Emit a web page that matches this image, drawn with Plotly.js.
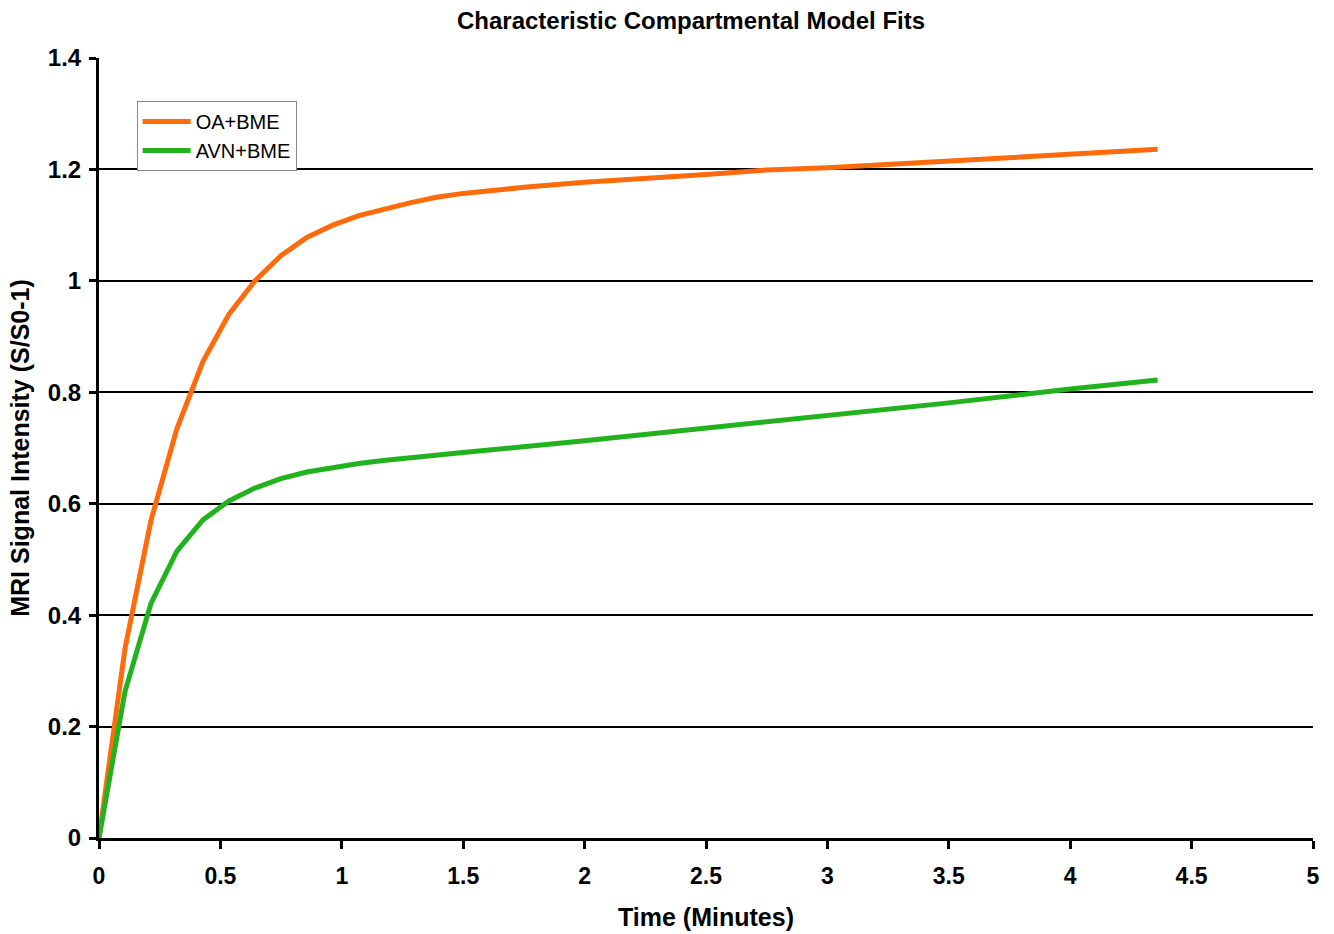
<!DOCTYPE html>
<html>
<head>
<meta charset="utf-8">
<script src="https://cdn.plot.ly/plotly-3.0.1.min.js"></script>
<style>html,body{margin:0;padding:0;background:#fff}#chart{width:1334px;height:934px}</style>
</head>
<body>
<div id="chart"></div>
<script>
// Data
const timeOA  = [0, 0.107, 0.214, 0.321, 0.428, 0.535, 0.642, 0.749, 0.856, 0.963, 1.07, 1.18, 1.28, 1.39, 1.5, 1.75, 2.0, 2.5, 2.75, 3.0, 3.5, 4.0, 4.36];
const valuesOA = [0, 0.34, 0.57, 0.735, 0.855, 0.94, 1.0, 1.045, 1.078, 1.10, 1.117, 1.13, 1.14, 1.15, 1.157, 1.168, 1.177, 1.191, 1.199, 1.203, 1.215, 1.226, 1.236];
const timeAVN  = [0, 0.107, 0.214, 0.321, 0.428, 0.535, 0.642, 0.749, 0.856, 0.963, 1.07, 1.18, 1.28, 1.5, 2.0, 2.5, 3.0, 3.5, 4.0, 4.36];
const valuesAVN = [0, 0.263, 0.421, 0.515, 0.571, 0.605, 0.628, 0.645, 0.657, 0.665, 0.672, 0.678, 0.683, 0.692, 0.713, 0.735, 0.757, 0.781, 0.806, 0.822];
const seriesNames = ["OA+BME", "AVN+BME"];
const xTicks = [0, 0.5, 1, 1.5, 2, 2.5, 3, 3.5, 4, 4.5, 5];
const yTicks = [0, 0.2, 0.4, 0.6, 0.8, 1, 1.2, 1.4];

const font = "Liberation Sans, Arial, Helvetica, sans-serif";

const traces = [
  {x: timeOA, y: valuesOA, name: seriesNames[0], mode: "lines", line: {color: "#FF6A0A", width: 5}},
  {x: timeAVN, y: valuesAVN, name: seriesNames[1], mode: "lines", line: {color: "#22B21E", width: 5}}
];

const layout = {
  width: 1334, height: 934,
  margin: {l: 99, r: 21, t: 58, b: 96},
  paper_bgcolor: "#fff", plot_bgcolor: "#fff",
  font: {family: font, color: "#000"},
  title: {text: "Characteristic Compartmental Model Fits", font: {family: font, size: 24, weight: "bold", color: "#000"}, x: 0.518, xanchor: "center", y: 0.978, yanchor: "middle"},
  xaxis: {
    range: [0, 5], tickvals: xTicks, ticktext: xTicks.map(String),
    showgrid: false, zeroline: false,
    showline: true, linecolor: "#000", linewidth: 3,
    ticks: "outside", ticklen: 8, tickwidth: 3, tickcolor: "#000",
    tickfont: {family: font, size: 23, weight: "bold", color: "#000"},
    ticklabelstandoff: 7,
    title: {text: "Time (Minutes)", font: {family: font, size: 25, weight: "bold", color: "#000"}, standoff: 21}
  },
  yaxis: {
    range: [0, 1.4], tickvals: yTicks, ticktext: yTicks.map(String),
    showgrid: true, gridcolor: "#000", gridwidth: 2, zeroline: false,
    showline: true, linecolor: "#000", linewidth: 3,
    ticks: "outside", ticklen: 7, tickwidth: 3, tickcolor: "#000",
    tickfont: {family: font, size: 24, weight: "bold", color: "#000"},
    ticklabelstandoff: 3,
    title: {text: "MRI Signal Intensity (S/S0-1)", font: {family: font, size: 25, weight: "bold", color: "#000"}, standoff: 12}
  },
  showlegend: true,
  legend: {
    x: 0.031, y: 0.945, xanchor: "left", yanchor: "top",
    bgcolor: "#fff", bordercolor: "#888", borderwidth: 1,
    font: {family: font, size: 20, color: "#000"},
    tracegroupgap: 0, itemwidth: 48
  }
};

Plotly.newPlot("chart", traces, layout, {displayModeBar: false, staticPlot: true});
</script>
</body>
</html>
